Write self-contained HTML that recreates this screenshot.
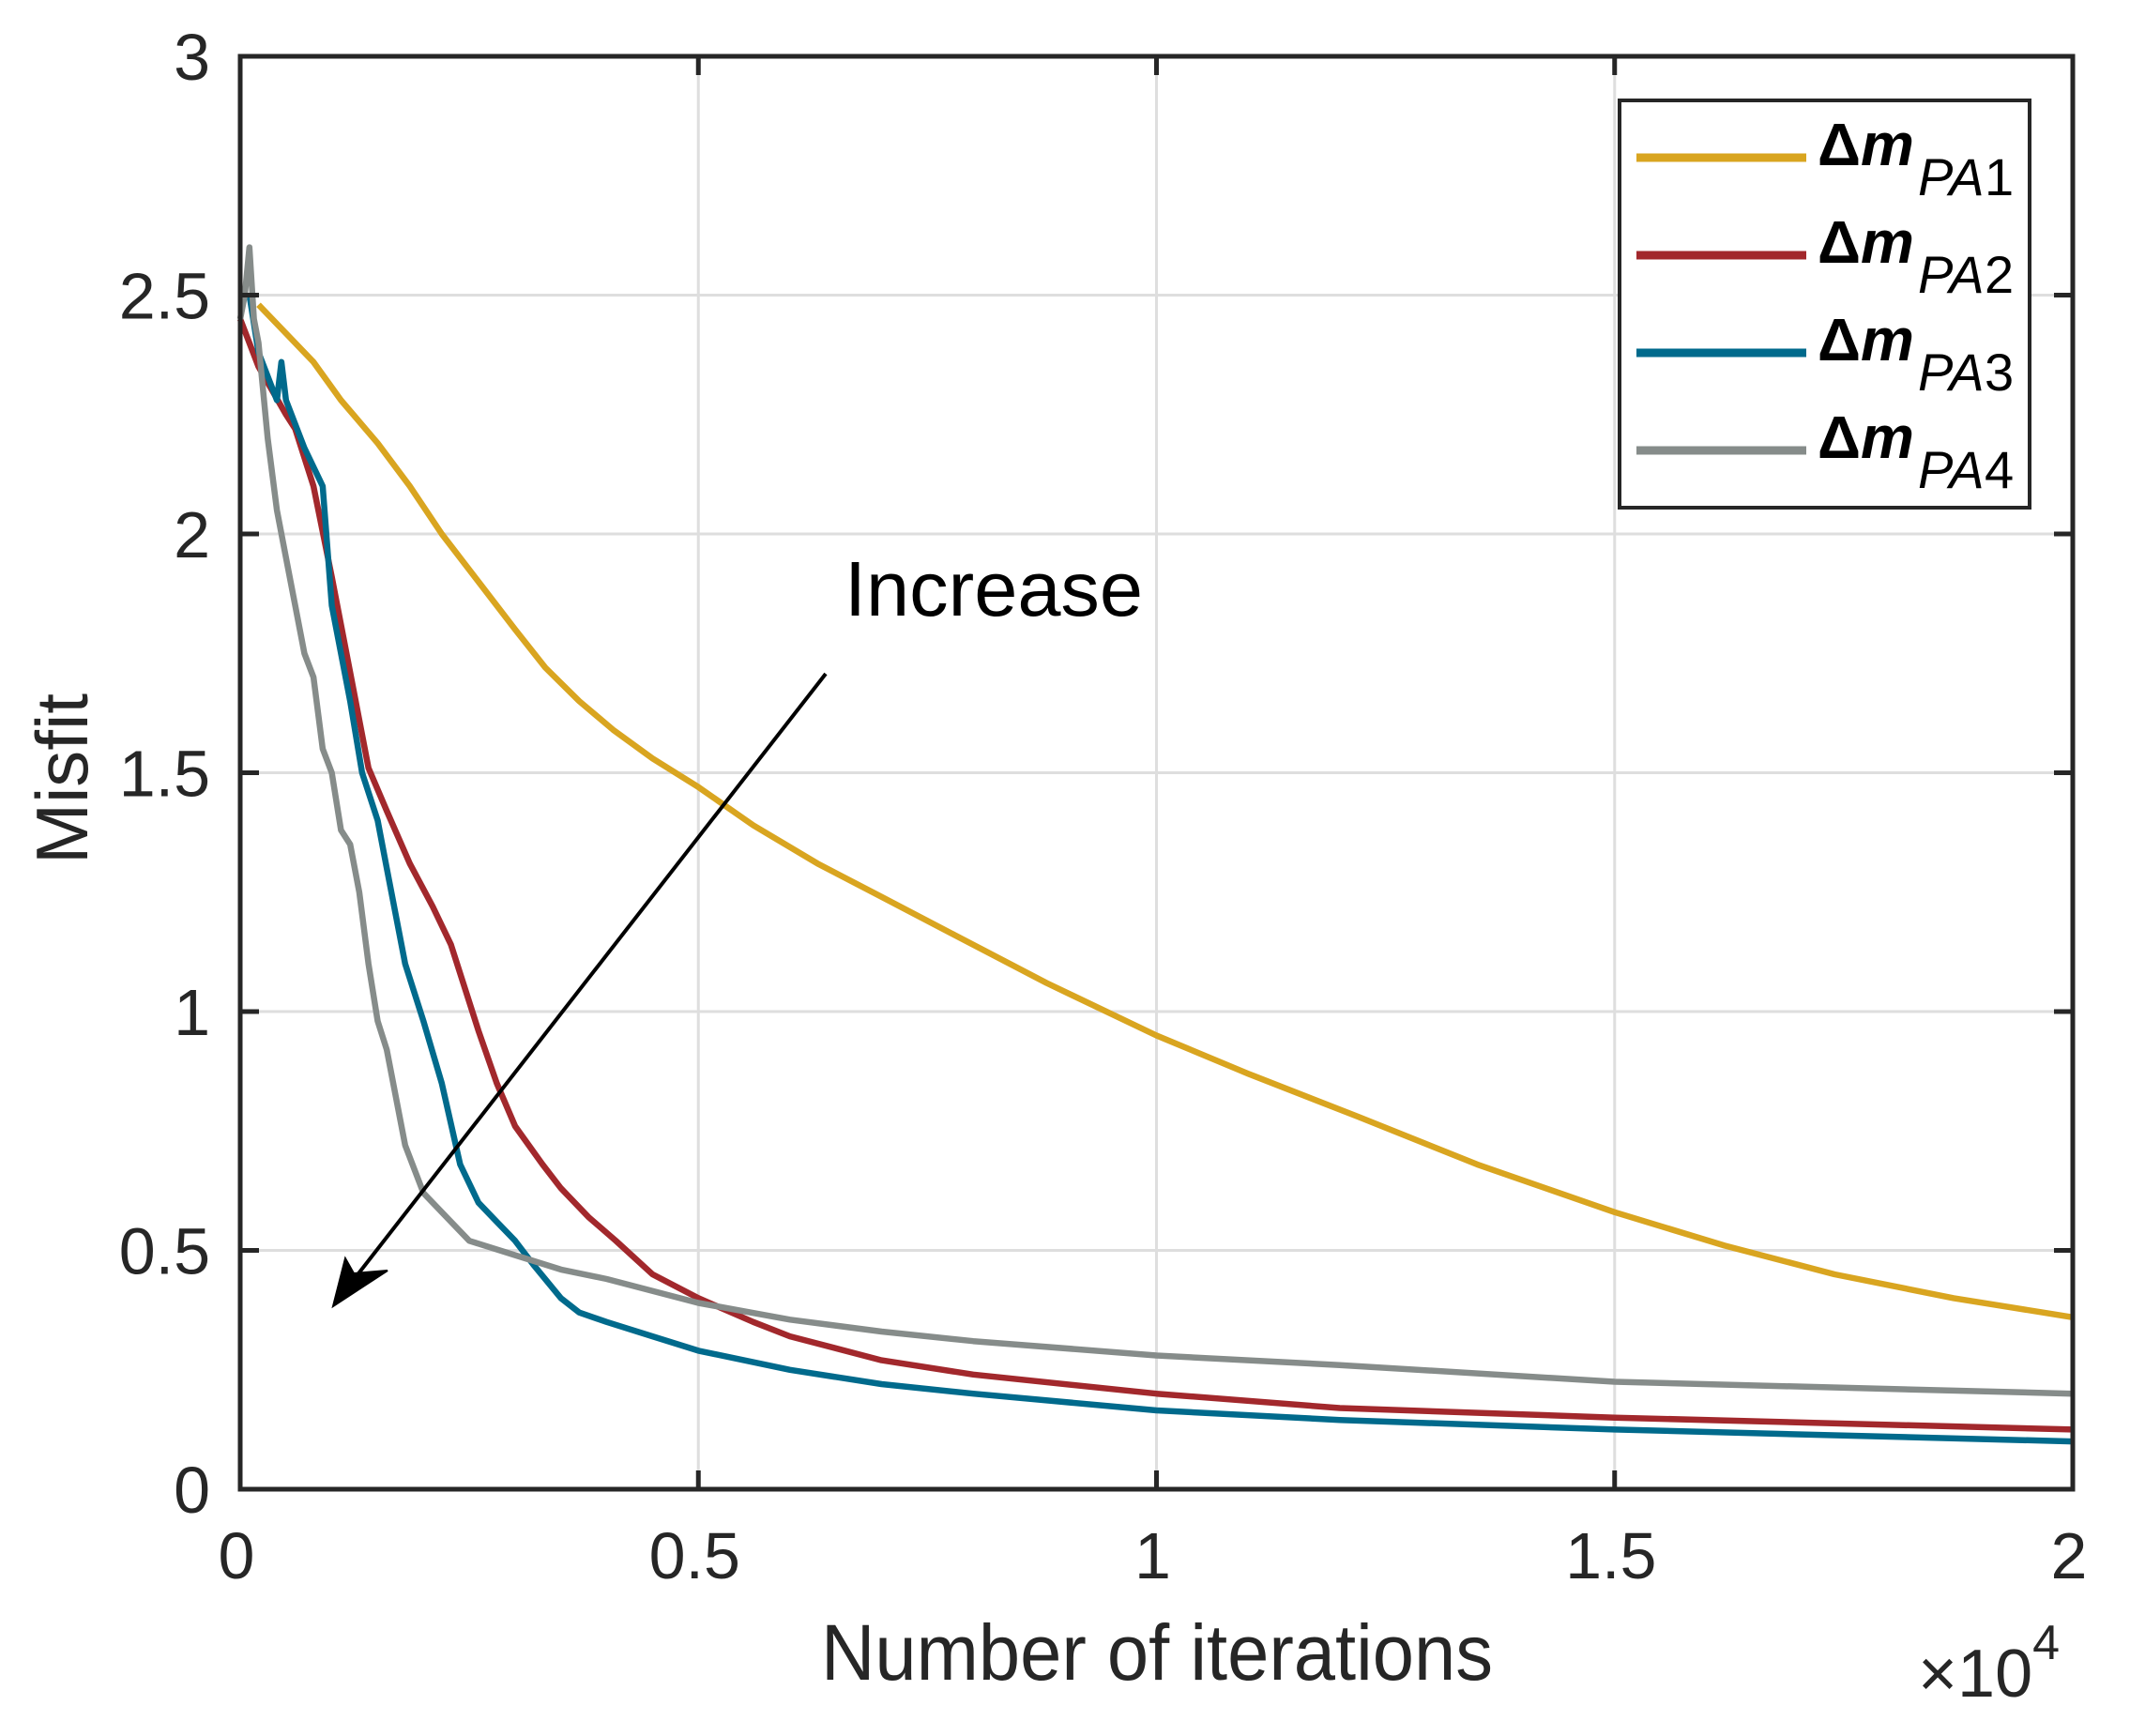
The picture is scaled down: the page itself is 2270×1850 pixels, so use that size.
<!DOCTYPE html>
<html><head><meta charset="utf-8"><style>
html,body{margin:0;padding:0;background:#fff;}
svg{display:block;font-family:"Liberation Sans",sans-serif;}
</style></head><body>
<svg id="chart" width="2270" height="1850" viewBox="0 0 2270 1850" xmlns="http://www.w3.org/2000/svg">
<g id="grid"></g>
<g id="series"></g>
<g id="axes"></g>
<g id="ticklabels" font-size="70" fill="#262626"></g>
<text x="875" y="1790" font-size="84" fill="#262626" textLength="716" lengthAdjust="spacingAndGlyphs">Number of iterations</text>
<text x="2044" y="1808" font-size="72" fill="#262626">×10<tspan font-size="52" dy="-40">4</tspan></text>
<text transform="translate(93,921) rotate(-90)" font-size="78" fill="#262626" textLength="182" lengthAdjust="spacingAndGlyphs">Misfit</text>
<text x="900" y="656" font-size="83" fill="#000" textLength="318" lengthAdjust="spacingAndGlyphs">Increase</text>
<g>
<line x1="880" y1="718" x2="372" y2="1370" stroke="#000" stroke-width="4"/>
<polygon points="355,1392 368,1341 377,1357 413,1354" fill="#000" stroke="#000" stroke-width="2"/>
</g>
<g id="legend">
<rect x="1726" y="107" width="437" height="434" fill="#fff" stroke="#262626" stroke-width="4"/>
</g>
</svg>
<script>
const xTicks=[0,0.5,1,1.5,2];
const xTickLabels=["0","0.5","1","1.5","2"];
const yTicks=[0,0.5,1,1.5,2,2.5,3];
const yTickLabels=["0","0.5","1","1.5","2","2.5","3"];
const seriesNames=["PA1","PA2","PA3","PA4"];
const seriesColors=["#D9A520","#A2282C","#006A8C","#868C8A"];
const x1=[0.02,0.05,0.08,0.11,0.15,0.185,0.22,0.26,0.3,0.333,0.37,0.407,0.45,0.5,0.56,0.63,0.7,0.78,0.88,1.0,1.1,1.22,1.35,1.5,1.62,1.74,1.87,2.0];
const y1=[2.48,2.42,2.36,2.28,2.19,2.10,2.00,1.90,1.80,1.72,1.65,1.59,1.53,1.47,1.39,1.31,1.24,1.16,1.06,0.95,0.87,0.78,0.68,0.58,0.51,0.45,0.40,0.36];
const x2=[0,0.02,0.05,0.06,0.08,0.1,0.12,0.14,0.16,0.185,0.21,0.23,0.26,0.28,0.3,0.33,0.35,0.38,0.41,0.45,0.5,0.56,0.6,0.7,0.8,1.0,1.2,1.5,2.0];
const y2=[2.45,2.35,2.25,2.22,2.1,1.91,1.71,1.51,1.42,1.31,1.22,1.14,0.96,0.85,0.76,0.68,0.63,0.57,0.52,0.45,0.40,0.35,0.32,0.27,0.24,0.20,0.17,0.15,0.125];
const x3=[0.01,0.02,0.03,0.04,0.045,0.05,0.07,0.09,0.1,0.12,0.133,0.15,0.16,0.18,0.2,0.22,0.24,0.26,0.28,0.30,0.32,0.35,0.37,0.4,0.45,0.5,0.6,0.7,0.8,1.0,1.2,1.5,2.0];
const y3=[2.5,2.38,2.33,2.28,2.36,2.28,2.18,2.1,1.85,1.65,1.5,1.4,1.3,1.1,0.98,0.85,0.68,0.6,0.56,0.52,0.47,0.40,0.37,0.35,0.32,0.29,0.25,0.22,0.20,0.165,0.145,0.125,0.10];
const x4=[0,0.005,0.01,0.015,0.02,0.03,0.04,0.05,0.06,0.07,0.08,0.09,0.1,0.11,0.12,0.13,0.14,0.15,0.16,0.17,0.18,0.2,0.22,0.25,0.3,0.35,0.4,0.5,0.6,0.7,0.8,1.0,1.2,1.5,2.0];
const y4=[2.45,2.5,2.6,2.45,2.4,2.2,2.05,1.95,1.85,1.75,1.7,1.55,1.5,1.38,1.35,1.25,1.1,0.98,0.92,0.82,0.72,0.62,0.58,0.52,0.49,0.46,0.44,0.39,0.355,0.33,0.31,0.28,0.26,0.225,0.20];
const xsAll=[x1,x2,x3,x4], ysAll=[y1,y2,y3,y4];

const L=256,T=60,R=2209,B=1587;
function sx(v){return L+(v/2)*(R-L);}
function sy(v){return B-(v/3)*(B-T);}
const NS="http://www.w3.org/2000/svg";
function mk(tag,attrs,parent){const e=document.createElementNS(NS,tag);for(const k in attrs)e.setAttribute(k,attrs[k]);parent.appendChild(e);return e;}

const grid=document.getElementById('grid');
xTicks.forEach((t,i)=>{const l=mk('line',{x1:sx(t),x2:sx(t),y1:T,y2:B,stroke:'#dedede','stroke-width':3},grid);

});
yTicks.forEach((t,i)=>{const l=mk('line',{x1:L,x2:R,y1:sy(t),y2:sy(t),stroke:'#dedede','stroke-width':3},grid);

});

const sg=document.getElementById('series');
xsAll.forEach((xs,i)=>{
  const pts=xs.map((x,j)=>sx(x).toFixed(1)+','+sy(ysAll[i][j]).toFixed(1)).join(' ');
  const p=mk('polyline',{points:pts,fill:'none',stroke:seriesColors[i],'stroke-width':6.5,'stroke-linejoin':'round'},sg);
  
  
});

const ax=document.getElementById('axes');
const fr=mk('rect',{x:L,y:T,width:R-L,height:B-T,fill:'none',stroke:'#262626','stroke-width':5},ax);


xTicks.forEach(t=>{mk('line',{x1:sx(t),x2:sx(t),y1:B,y2:B-20,stroke:'#262626','stroke-width':5},ax);mk('line',{x1:sx(t),x2:sx(t),y1:T,y2:T+20,stroke:'#262626','stroke-width':5},ax);});
yTicks.forEach(t=>{mk('line',{x1:L,x2:L+20,y1:sy(t),y2:sy(t),stroke:'#262626','stroke-width':5},ax);mk('line',{x1:R,x2:R-20,y1:sy(t),y2:sy(t),stroke:'#262626','stroke-width':5},ax);});

const tl=document.getElementById('ticklabels');
xTicks.forEach((t,i)=>{const e=mk('text',{x:sx(t)-4,y:1682,'text-anchor':'middle'},tl);e.textContent=xTickLabels[i];

});
yTicks.forEach((t,i)=>{const e=mk('text',{x:224,y:sy(t)+25,'text-anchor':'end'},tl);e.textContent=yTickLabels[i];

});

const lg=document.getElementById('legend');
seriesNames.forEach((n,i)=>{
  const y=168+i*104;
  const g=mk('g',{},lg);
  
  
  mk('line',{x1:1744,x2:1925,y1:y,y2:y,stroke:seriesColors[i],'stroke-width':9},g);
  const t=mk('text',{x:1937,y:y+8,'font-size':64,fill:'#000'},g);
  const a=document.createElementNS(NS,'tspan');a.setAttribute('font-weight','bold');a.textContent='Δ';t.appendChild(a);
  const b=document.createElementNS(NS,'tspan');b.setAttribute('font-weight','bold');b.setAttribute('font-style','italic');b.textContent='m';t.appendChild(b);
  const s=mk('text',{x:2044,y:y+40,'font-size':56,'font-style':'italic',fill:'#000'},g);
  s.textContent='PA';
  const d=mk('text',{x:2115,y:y+40,'font-size':56,fill:'#000'},g);
  d.textContent=n.slice(2);
});
</script>
</body></html>
